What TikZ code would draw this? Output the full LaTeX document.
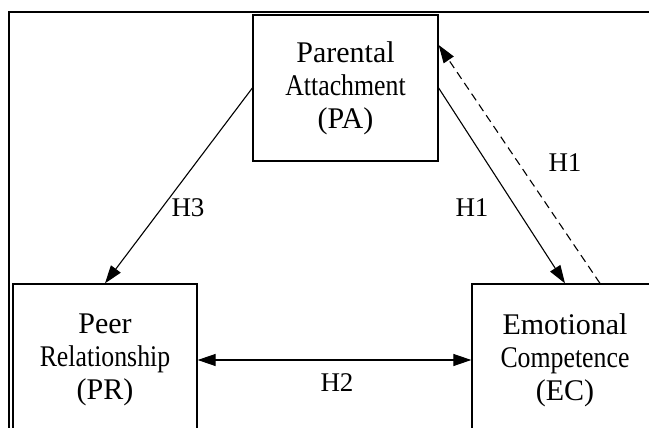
\documentclass[tikz,border=0pt]{standalone}
\usepackage{fontspec}
\usepackage{graphicx}
\setmainfont{Liberation Serif}
\usetikzlibrary{arrows.meta}
\tikzset{
  varbox/.style={draw, line width=1.3pt, inner sep=0pt, align=center,
    font=\fontsize{30}{33}\selectfont},
  lbl/.style={font=\fontsize{27}{29}\selectfont, inner sep=0pt},
  conn/.style={line width=1.1pt, -{Triangle[length=18pt,width=12pt]}},
  dconn/.style={conn, dash pattern=on 8pt off 5pt},
  dbl/.style={line width=1.1pt, {Triangle[length=18pt,width=12pt]}-{Triangle[length=18pt,width=12pt]}},
}
\newcommand{\narrow}[1]{\scalebox{0.86}[1]{#1}}
\begin{document}
\begin{tikzpicture}[x=1pt,y=-1pt]
\useasboundingbox (0,0) rectangle (649,428);
\clip (0,0) rectangle (649,428);
\draw[line width=1.4pt] (9,440) -- (9,12) -- (660,12);
\node[varbox, minimum width=185pt, minimum height=146pt] (PA) at (345.5,88)
  {Parental\\\narrow{Attachment}\\(PA)};
\node[varbox, minimum width=184pt, minimum height=152pt] (PR) at (105,360)
  {Peer\\\narrow{Relationship}\\(PR)};
\node[varbox, minimum width=186pt, minimum height=152pt] (EC) at (565,360)
  {Emotional\\\narrow{Competence}\\(EC)};
\draw[conn] (PA.west) -- (PR.north);
\draw[conn] (PA.east) -- (EC.north);
\draw[dconn] ([xshift=35pt]EC.north) -- ([yshift=43pt]PA.east);
\draw[dbl] (PR.east) -- (EC.west);
\node[lbl] (h3) at (188,208) {H3};
\node[lbl] (h1a) at (472,208) {H1};
\node[lbl] (h1b) at (565,163) {H1};
\node[lbl] (h2) at (337,383) {H2};
\end{tikzpicture}
\end{document}
